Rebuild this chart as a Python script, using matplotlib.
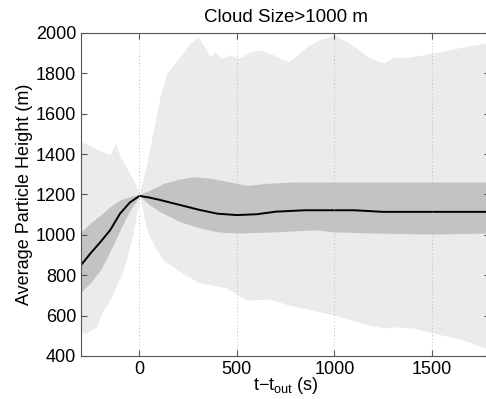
import numpy as np
from matplotlib import pyplot as plt

plt.rcParams['font.family'] = ['Liberation Sans', 'DejaVu Sans']
plt.rcParams['mathtext.fontset'] = 'custom'
plt.rcParams['mathtext.rm'] = 'Liberation Sans'
plt.rcParams['mathtext.it'] = 'Liberation Sans'

# time (s) relative to t_out
t_mean = [-300, -250, -200, -150, -100, -50, 0, 50, 105, 150, 208, 311, 400, 500, 600, 700,
          850, 1000, 1100, 1250, 1500, 1800]
h_mean = [850, 910, 965, 1024, 1105, 1160, 1193, 1185, 1173, 1162, 1148, 1123, 1105, 1098, 1102, 1115,
          1122, 1122, 1122, 1114, 1114, 1114]

t_dark = [-300, -250, -200, -150, -100, -50, 0, 50, 123, 200, 277, 370, 465, 550, 650, 800, 1000,
          1200, 1500, 1800]
dark_hi = [1015, 1060, 1098, 1140, 1173, 1190, 1200, 1220, 1255, 1275, 1288, 1280, 1262, 1245, 1255,
           1262, 1262, 1262, 1262, 1262]
t_dark_lo = [-300, -250, -200, -150, -100, -50, 0, 50, 105, 208, 311, 400, 500, 700, 900, 1000, 1200,
             1500, 1800]
dark_lo = [715, 765, 826, 920, 1024, 1120, 1193, 1150, 1115, 1065, 1034, 1015, 1009, 1015, 1025, 1015,
           1009, 1004, 1009]

t_light_hi = [-300, -250, -200, -150, -124, -100, -31, 0, 38, 72, 106, 140, 208, 260, 302, 363, 388,
              423, 465, 505, 540, 580, 613, 680, 730, 763, 800, 856, 920, 1000, 1060, 1100, 1180,
              1255, 1300, 1383, 1506, 1660, 1800]
light_hi = [1462, 1440, 1415, 1396, 1454, 1390, 1272, 1207, 1355, 1520, 1685, 1800, 1883, 1949, 1982,
            1883, 1907, 1875, 1891, 1876, 1890, 1910, 1916, 1895, 1870, 1857, 1880, 1930, 1965, 1990,
            1960, 1935, 1876, 1851, 1881, 1880, 1900, 1931, 1955]

t_light_lo = [-300, -270, -250, -218, -200, -150, -82, -32, 0, 38, 80, 122, 220, 311, 448, 547,
              667, 767, 1000, 1180, 1255, 1300, 1400, 1506, 1660, 1800]
light_lo = [515, 515, 530, 545, 600, 680, 826, 1009, 1193, 1024, 940, 876, 810, 762, 737, 677,
            682, 652, 603, 553, 539, 544, 539, 514, 480, 430]

fig = plt.figure(figsize=(4.86, 3.99), dpi=100)
ax = fig.add_axes([0.1667, 0.1078, 0.842, 0.8095])

ax.fill_between(t_light_hi, light_hi, 400, color='#ebebeb', lw=0)
ax.fill_between(t_dark, dark_hi, 400, color='#c3c3c3', lw=0)
ax.fill_between(t_dark_lo, dark_lo, 400, color='#ebebeb', lw=0)
ax.fill_between(t_light_lo, light_lo, 400, color='white', lw=0)
ax.plot(t_mean, h_mean, color='black', lw=1.4)

ax.set_xlim(-300, 1800)
ax.set_ylim(400, 2000)
ax.set_xticks([0, 500, 1000, 1500])
ax.set_yticks(np.arange(400, 2001, 200))
ax.xaxis.grid(True, ls=(0, (1, 2.5)), color='#bbbbbb', lw=0.7)
ax.set_axisbelow(False)
ax.tick_params(direction='in', top=True, right=True, labelsize=13, color='#555555', length=4)
for s in ax.spines.values():
    s.set_color('#555555')
    s.set_linewidth(0.8)

ax.set_title('Cloud Size>1000 m', fontsize=13.5, pad=8)
ax.set_ylabel('Average Particle Height (m)', fontsize=13, labelpad=2)
ax.set_xlabel(r'$\mathrm{t{-}t_{out}}$ (s)', fontsize=13, labelpad=-2)

fig.savefig('out.png', dpi=100)
